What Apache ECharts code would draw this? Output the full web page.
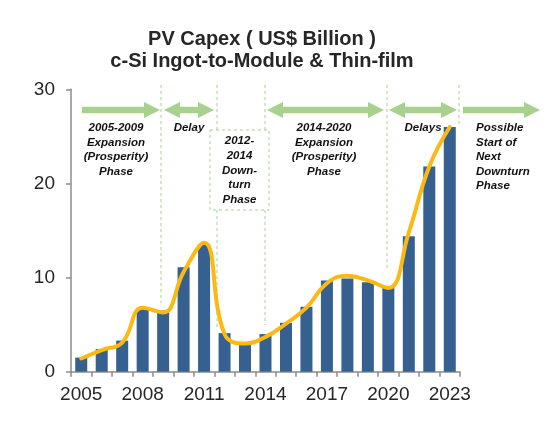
<!DOCTYPE html>
<html>
<head>
<meta charset="utf-8">
<script src="https://cdn.jsdelivr.net/npm/echarts@6/dist/echarts.min.js"></script>
<style>
html,body{margin:0;padding:0;background:#fff;}
#c{width:551px;height:433px;}
</style>
</head>
<body>
<div id="c"></div>
<script>
var years = ['2005','2006','2007','2008','2009','2010','2011','2012','2013','2014','2015','2016','2017','2018','2019','2020','2021','2022','2023'];
var capex = [1.5, 2.4, 3.3, 6.8, 6.5, 11.1, 13.5, 4.1, 3.0, 4.0, 5.2, 6.9, 9.7, 9.9, 9.5, 9.1, 14.4, 21.8, 26.0];
var trend = [1.4, 2.3, 3.1, 6.8, 6.3, 10.6, 13.7, 4.0, 3.0, 3.7, 5.1, 6.8, 9.4, 10.2, 9.7, 8.9, 14.8, 21.8, 26.0];
var yTicks = [0, 10, 20, 30];

var GREEN = '#A9D18E';
var DASH = '#A9D18E';

function arrow(x1, x2, y, both) {
  var t = 3.2, hl = 16, hh = 8;
  var pts;
  if (both) {
    pts = [[x1, y], [x1 + hl, y - hh], [x1 + hl, y - t], [x2 - hl, y - t], [x2 - hl, y - hh], [x2, y],
           [x2 - hl, y + hh], [x2 - hl, y + t], [x1 + hl, y + t], [x1 + hl, y + hh]];
  } else {
    pts = [[x1, y - t], [x2 - hl, y - t], [x2 - hl, y - hh], [x2, y], [x2 - hl, y + hh], [x2 - hl, y + t], [x1, y + t]];
  }
  return { type: 'polygon', shape: { points: pts }, style: { fill: GREEN }, silent: true };
}
function vline(x, y1, y2) {
  return { type: 'line', shape: { x1: x, y1: y1, x2: x, y2: y2 },
    style: { stroke: DASH, lineWidth: 1, lineDash: [3, 3] }, silent: true };
}
function txt(x, y, lines, align) {
  return { type: 'text', x: x, y: y, silent: true, z: 10,
    style: { text: lines.join('\n'), fill: '#111', align: align || 'center', verticalAlign: 'top',
      font: 'italic bold 11.5px "Liberation Sans", Arial, sans-serif', lineHeight: 14.6 } };
}

var chart = echarts.init(document.getElementById('c'), null, { renderer: 'canvas' });
chart.setOption({
  animation: false,
  backgroundColor: '#fff',
  title: {
    text: 'PV Capex ( US$ Billion )\nc-Si Ingot-to-Module & Thin-film',
    left: 257, top: 23, textAlign: 'center',
    textStyle: { fontFamily: '"Liberation Sans", Arial, sans-serif', fontWeight: 'bold', fontSize: 20, color: '#262626', lineHeight: 22 }
  },
  grid: { left: 71, right: 91, top: 89.3, bottom: 61.3, containLabel: false },
  xAxis: {
    type: 'category', data: years, boundaryGap: true,
    axisLine: { lineStyle: { color: '#8c8c8c', width: 1.5 } },
    axisTick: { show: true, length: 5, interval: 0, lineStyle: { color: '#8c8c8c', width: 1.5 } },
    axisLabel: { interval: 2, margin: 14, fontSize: 19, color: '#262626', fontFamily: '"Liberation Sans", Arial, sans-serif' },
    splitLine: { show: false }
  },
  yAxis: {
    type: 'value', min: yTicks[0], max: yTicks[yTicks.length - 1], interval: 10,
    axisLine: { show: true, lineStyle: { color: '#8c8c8c', width: 1.5 } },
    axisTick: { show: true, length: 5, lineStyle: { color: '#8c8c8c', width: 1.5 } },
    axisLabel: { margin: 16, fontSize: 19, color: '#262626', fontFamily: '"Liberation Sans", Arial, sans-serif' },
    splitLine: { show: false }
  },
  series: [
    { type: 'bar', data: capex, barWidth: 12, itemStyle: { color: '#35608F' }, z: 2 },
    { type: 'line', data: trend, smooth: 0.45, symbol: 'none', z: 3,
      lineStyle: { color: '#FDB913', width: 4, cap: 'round' } }
  ],
  graphic: [
    arrow(82, 160, 110, false),
    arrow(164, 214, 110, true),
    arrow(267, 384, 110, true),
    arrow(389, 457, 110, true),
    arrow(463, 540, 110, false),
    vline(161, 85, 303),
    vline(217, 85, 130),
    vline(217, 210, 328),
    vline(265, 85, 130),
    vline(265, 210, 325),
    vline(387, 85, 270),
    vline(459, 85, 127),
    { type: 'rect', shape: { x: 210, y: 130, width: 59, height: 80 },
      style: { fill: '#fff', stroke: DASH, lineWidth: 1, lineDash: [3, 3] }, silent: true, z: 5 },
    txt(116, 120.5, ['2005-2009', 'Expansion', '(Prosperity)', 'Phase']),
    txt(189, 120.5, ['Delay']),
    txt(239.5, 134, ['2012-', '2014', 'Down-', 'turn', 'Phase']),
    txt(324, 120.5, ['2014-2020', 'Expansion', '(Prosperity)', 'Phase']),
    txt(423, 120.5, ['Delays']),
    txt(476, 120.5, ['Possible', 'Start of', 'Next', 'Downturn', 'Phase'], 'left')
  ]
});
</script>
</body>
</html>
